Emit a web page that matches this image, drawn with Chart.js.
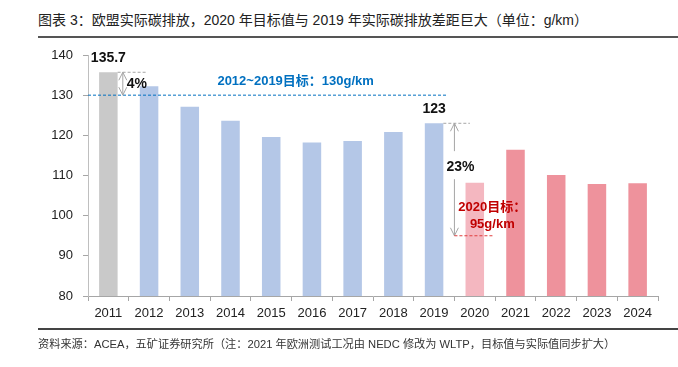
<!DOCTYPE html>
<html>
<head>
<meta charset="utf-8">
<script src="https://cdn.jsdelivr.net/npm/chart.js@4/dist/chart.umd.min.js"></script>
<style>
  html, body { margin: 0; padding: 0; background: #fff; }
  #wrap { position: relative; width: 678px; height: 367px; overflow: hidden; font-family: "Liberation Sans", "Noto Sans CJK SC", sans-serif; }
  #title { position: absolute; left: 38px; top: 9px; font-size: 14px; color: #222; white-space: nowrap; }
  #titleRule { position: absolute; left: 38px; right: 0; top: 36px; height: 2px; background: #555; }
  #footRule { position: absolute; left: 38px; right: 0; top: 328px; height: 2px; background: #444; }
  #foot { position: absolute; left: 38px; top: 335px; font-size: 11.2px; color: #333; white-space: nowrap; }
  canvas { position: absolute; left: 0; top: 0; }
</style>
</head>
<body>
<div id="wrap">
  <div id="title">图表 3：欧盟实际碳排放，2020 年目标值与 2019 年实际碳排放差距巨大（单位：g/km）</div>
  <div id="titleRule"></div>
  <canvas id="c" width="678" height="367"></canvas>
  <div id="footRule"></div>
  <div id="foot">资料来源：ACEA，五矿证券研究所（注：2021 年欧洲测试工况由 NEDC 修改为 WLTP，目标值与实际值同步扩大）</div>
</div>
<script>
// ---- data ----
const categories = ['2011','2012','2013','2014','2015','2016','2017','2018','2019','2020','2021','2022','2023','2024'];
const emissions = [135.7, 132.2, 127.1, 123.6, 119.6, 118.2, 118.6, 120.8, 123.0, 108.2, 116.4, 110.1, 107.9, 108.1];
const yTicks = [80, 90, 100, 110, 120, 130, 140];
const target20122019 = 130;
const target2020 = 95;
const value2011Label = '135.7';
const value2019Label = '123';
const gap2011Label = '4%';
const gap2019Label = '23%';
const targetLabelBlue = '2012~2019目标：130g/km';
const targetLabelRed = ['2020目标：', '95g/km'];

function barColor(year) {
  const y = parseInt(year, 10);
  if (y === 2011) return '#c9c9c9';
  if (y <= 2019) return '#b4c7e7';
  if (y === 2020) return '#f4b7c0';
  return '#ee929c';
}

const FONT = '"Liberation Sans", "Noto Sans CJK SC", sans-serif';

function dashed(ctx, x1, y1, x2, y2, color, dash) {
  ctx.save();
  ctx.strokeStyle = color;
  ctx.lineWidth = 1;
  ctx.setLineDash(dash);
  ctx.beginPath();
  ctx.moveTo(x1, y1);
  ctx.lineTo(x2, y2);
  ctx.stroke();
  ctx.restore();
}

function arrowHead(ctx, x, y, dir) {
  ctx.beginPath();
  ctx.moveTo(x - 4, y - dir * 8);
  ctx.lineTo(x, y);
  ctx.lineTo(x + 4, y - dir * 8);
  ctx.stroke();
}

function doubleArrow(ctx, x, yTop, yBot, gapTop, gapBot) {
  ctx.save();
  ctx.strokeStyle = '#a6a6a6';
  ctx.lineWidth = 1;
  ctx.beginPath();
  if (gapTop !== undefined) {
    ctx.moveTo(x, yTop); ctx.lineTo(x, gapTop);
    ctx.moveTo(x, gapBot); ctx.lineTo(x, yBot);
  } else {
    ctx.moveTo(x, yTop); ctx.lineTo(x, yBot);
  }
  ctx.stroke();
  arrowHead(ctx, x, yTop, -1);
  arrowHead(ctx, x, yBot, 1);
  ctx.restore();
}

const annotations = {
  id: 'annotations',
  afterDatasetsDraw(chart) {
    const ctx = chart.ctx;
    const xs = chart.scales.x, ys = chart.scales.y;
    const area = chart.chartArea;
    const cw = xs.getPixelForValue(1) - xs.getPixelForValue(0);
    const cx = i => xs.getPixelForValue(i);
    const py = v => ys.getPixelForValue(v);
    const barHalf = cw * 0.455 / 2;

    const yBlue = py(target20122019);
    dashed(ctx, area.left, yBlue, cx(8) + cw * 0.34, yBlue, '#0070c0', [3, 2]);
    ctx.save();
    ctx.fillStyle = '#0070c0';
    ctx.font = 'bold 13px ' + FONT;
    ctx.textAlign = 'center';
    ctx.textBaseline = 'middle';
    ctx.fillText(targetLabelBlue, cx(4.6), yBlue - 14);
    ctx.restore();

    const y2011 = py(emissions[0]);
    ctx.save();
    ctx.fillStyle = '#111';
    ctx.font = 'bold 14px ' + FONT;
    ctx.textAlign = 'center';
    ctx.textBaseline = 'middle';
    ctx.fillText(value2011Label, cx(0), y2011 - 14);
    ctx.restore();
    dashed(ctx, cx(0) + barHalf, y2011, cx(0) + cw * 0.95, y2011, '#a6a6a6', [3, 2]);
    doubleArrow(ctx, cx(0) + cw * 0.355, y2011, yBlue);
    ctx.save();
    ctx.fillStyle = '#111';
    ctx.font = 'bold 14px ' + FONT;
    ctx.textAlign = 'left';
    ctx.textBaseline = 'middle';
    ctx.fillText(gap2011Label, cx(0) + cw * 0.45, (y2011 + yBlue) / 2);
    ctx.restore();

    const y2019 = py(emissions[8]);
    const yRed = py(target2020);
    ctx.save();
    ctx.fillStyle = '#111';
    ctx.font = 'bold 14px ' + FONT;
    ctx.textAlign = 'center';
    ctx.textBaseline = 'middle';
    ctx.fillText(value2019Label, cx(8), y2019 - 14);
    ctx.restore();
    dashed(ctx, cx(8) + barHalf, y2019, cx(8) + cw * 0.88, y2019, '#a6a6a6', [3, 2]);
    const ax = cx(8) + cw * 0.5;
    const midY = py(emissions[8] - (emissions[8] - target2020) * 0.39);
    doubleArrow(ctx, ax, y2019, yRed, midY - 16, midY + 12);
    ctx.save();
    ctx.fillStyle = '#111';
    ctx.font = 'bold 14px ' + FONT;
    ctx.textAlign = 'center';
    ctx.textBaseline = 'middle';
    ctx.fillText(gap2019Label, ax + 6, midY);
    ctx.restore();
    dashed(ctx, ax, yRed, cx(9) + cw * 0.45, yRed, '#e03c3c', [3, 2]);
    ctx.save();
    ctx.fillStyle = '#c00000';
    ctx.font = 'bold 13px ' + FONT;
    ctx.textAlign = 'center';
    ctx.textBaseline = 'middle';
    ctx.fillText(targetLabelRed[0], cx(9) + cw * 0.43, yRed - 28);
    ctx.fillText(targetLabelRed[1], cx(9) + cw * 0.43, yRed - 11);
    ctx.restore();
  }
};

new Chart(document.getElementById('c'), {
  type: 'bar',
  data: {
    labels: categories,
    datasets: [{
      data: emissions,
      backgroundColor: categories.map(barColor),
      borderWidth: 0,
      barPercentage: 0.455,
      categoryPercentage: 1.0
    }]
  },
  options: {
    responsive: false,
    animation: false,
    devicePixelRatio: 1,
    layout: { padding: { left: 0, right: 20, top: 55, bottom: 41 } },
    plugins: { legend: { display: false }, tooltip: { enabled: false } },
    scales: {
      x: {
        afterFit: s => { s.height = 30; },
        grid: { display: true, drawOnChartArea: false, drawTicks: true, tickLength: 5, color: '#a6a6a6', offset: true },
        border: { display: true, color: '#a6a6a6', width: 1 },
        ticks: { color: '#222', font: { family: FONT, size: 13 }, padding: 5, maxRotation: 0, autoSkip: false }
      },
      y: {
        min: 80, max: 140,
        afterFit: s => { s.width = 88; },
        afterBuildTicks: s => { s.ticks = yTicks.map(v => ({ value: v })); },
        grid: { display: true, drawOnChartArea: false, drawTicks: true, tickLength: 5, color: '#a6a6a6' },
        border: { display: true, color: '#bfbfbf', width: 1 },
        ticks: { color: '#222', font: { family: FONT, size: 13 }, padding: 10 }
      }
    }
  },
  plugins: [annotations]
});
</script>
</body>
</html>
